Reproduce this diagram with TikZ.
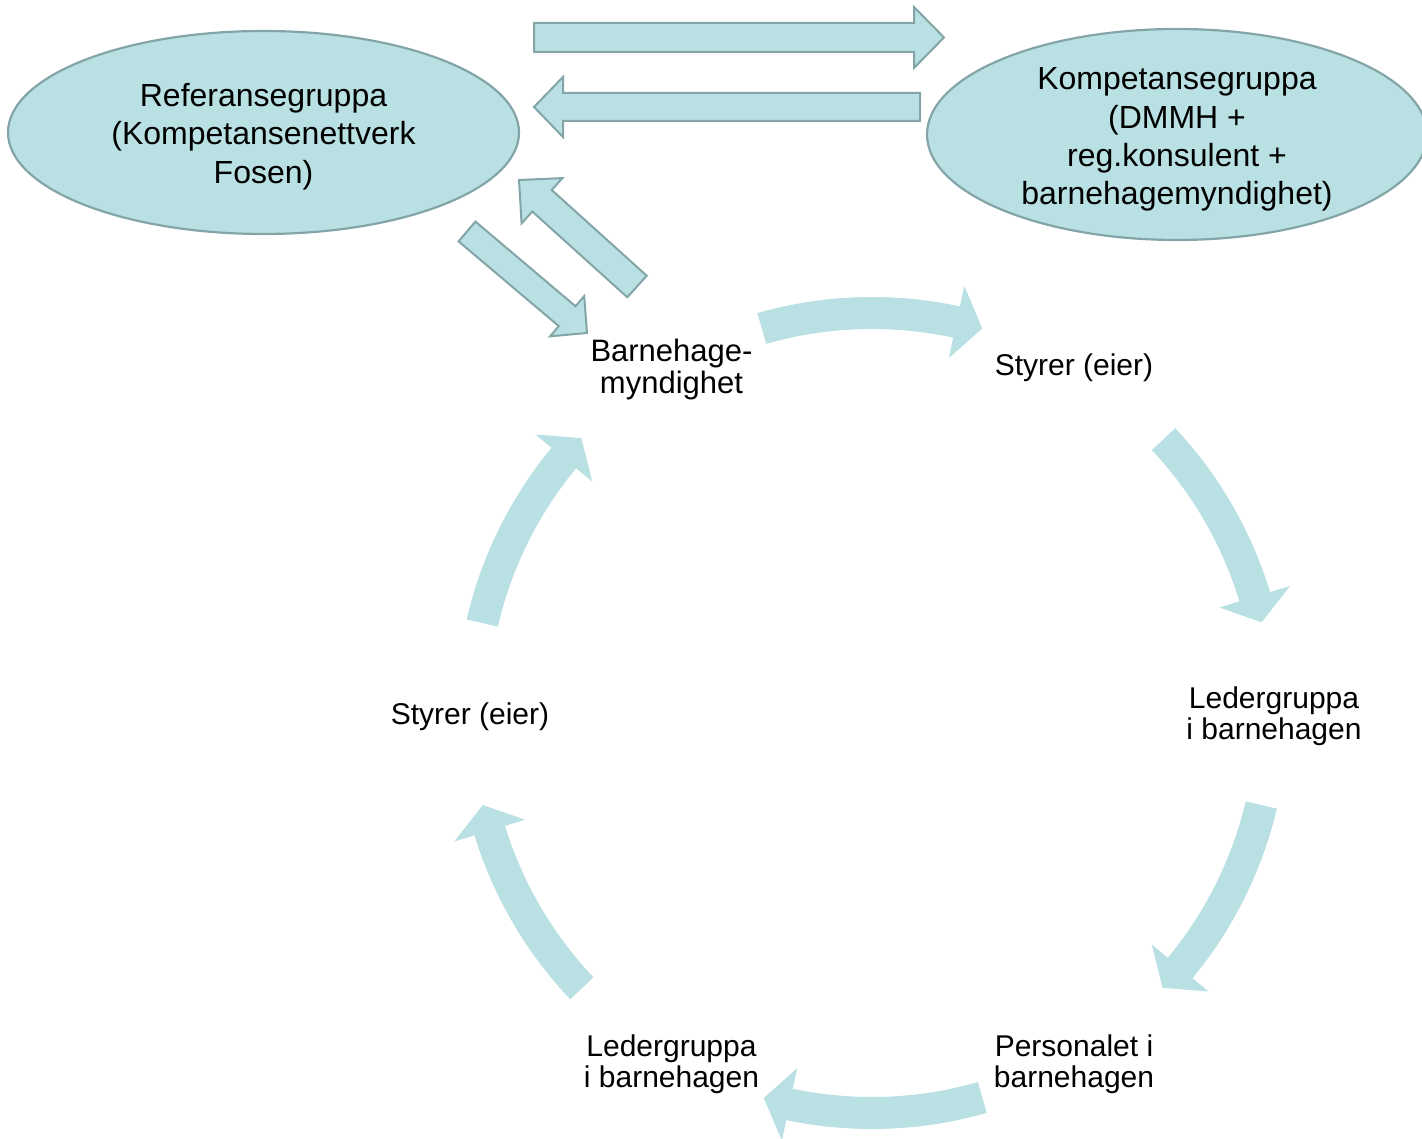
\documentclass[tikz,border=0pt]{standalone}
\usepackage{fontspec}
\setmainfont{Liberation Sans}
\usetikzlibrary{calc,shapes.geometric}
\definecolor{fillc}{RGB}{185,224,227}
\definecolor{edgec}{RGB}{132,165,168}
% block arrow: tail, tip, body half-width, head half-width, head length
\newcommand\blockarr[5]{%
  \coordinate (#1h) at ($(#2)!#5pt!(#1)$);
  \draw[blockstyle] ($(#1)!#3pt!90:(#2)$) -- ($(#1h)!#3pt!-90:(#1)$) -- ($(#1h)!#4pt!-90:(#1)$) -- (#2)
     -- ($(#1h)!#4pt!90:(#1)$) -- ($(#1h)!#3pt!90:(#1)$) -- ($(#1)!#3pt!-90:(#2)$) -- cycle;
}
% curved cycle arrow around (cc): start angle, tip angle (clockwise)
\newcommand\cyclearr[2]{%
  \pgfmathsetmacro\hb{#2+3.8}
  \fill[cfill,shift={(cc)}] (#1:416) arc[start angle=#1, end angle=\hb, radius=416]
     -- (\hb:437) -- (#2:400) -- (\hb:363) -- (\hb:384)
     arc[start angle=\hb, end angle=#1, radius=384] -- cycle;
}
\begin{document}
\begin{tikzpicture}[x=1pt,y=1pt,
  blockstyle/.style={fill=fillc, draw=edgec, line width=2pt, line join=miter},
  cfill/.style={fill=fillc},
  ell/.style={ellipse, draw=edgec, fill=fillc, line width=2.2pt, inner sep=0pt},
  elltext/.style={align=center, inner sep=0pt, font=\fontsize{32pt}{38.3pt}\selectfont},
  lab/.style={align=center, inner sep=0pt, font=\fontsize{30pt}{31.5pt}\selectfont}]
\useasboundingbox (0,0) rectangle (1422,1139);
\clip (0,0) rectangle (1422,1139);

% ellipses
\node[ell, minimum width=511pt, minimum height=203pt] (ref) at (263.5,1006.5) {};
\node[elltext] (reft) at ([yshift=-4pt]ref.center)
  {Referansegruppa\\(Kompetansenettverk\\Fosen)};
\node[ell, minimum width=500pt, minimum height=211pt] (komp) at (1177,1004.5) {};
\node[elltext] (kompt) at ([yshift=-5pt]komp.center)
  {Kompetansegruppa\\(DMMH +\\reg.konsulent +\\barnehagemyndighet)};

% straight block arrows
\coordinate (a1t) at (534,1101.5);  \coordinate (a1p) at (944,1101.5);
\coordinate (a2t) at (920,1032);    \coordinate (a2p) at (534,1032);
\coordinate (a3t) at (637,852.5);   \coordinate (a3p) at (519,959);
\coordinate (a4t) at (467,907.5);   \coordinate (a4p) at (587,806);
\blockarr{a1t}{a1p}{14.5}{30.5}{30}
\blockarr{a2t}{a2p}{14}{30}{29}
\blockarr{a3t}{a3p}{14.5}{30.5}{31}
\blockarr{a4t}{a4p}{13}{26.4}{26}

% cycle
\coordinate (cc) at (872,426);
\cyclearr{106}{74}
\cyclearr{43.2}{13.1}
\cyclearr{-13.3}{-43.4}
\cyclearr{-74}{-105.7}
\cyclearr{-136.5}{-166.7}
\cyclearr{167}{136.6}

\node[lab, font=\fontsize{31pt}{31.5pt}\selectfont] (bm) at (671.5,769.5) {Barnehage-\\myndighet};
\node[lab] (s1) at (1074,771) {Styrer (eier)};
\node[lab] (l1) at (1274,422.5) {Ledergruppa\\i barnehagen};
\node[lab] (p1) at (1074,74.5) {Personalet i\\barnehagen};
\node[lab] (l2) at (671.5,74.5) {Ledergruppa\\i barnehagen};
\node[lab] (s2) at (470,422) {Styrer (eier)};
\end{tikzpicture}
\end{document}
